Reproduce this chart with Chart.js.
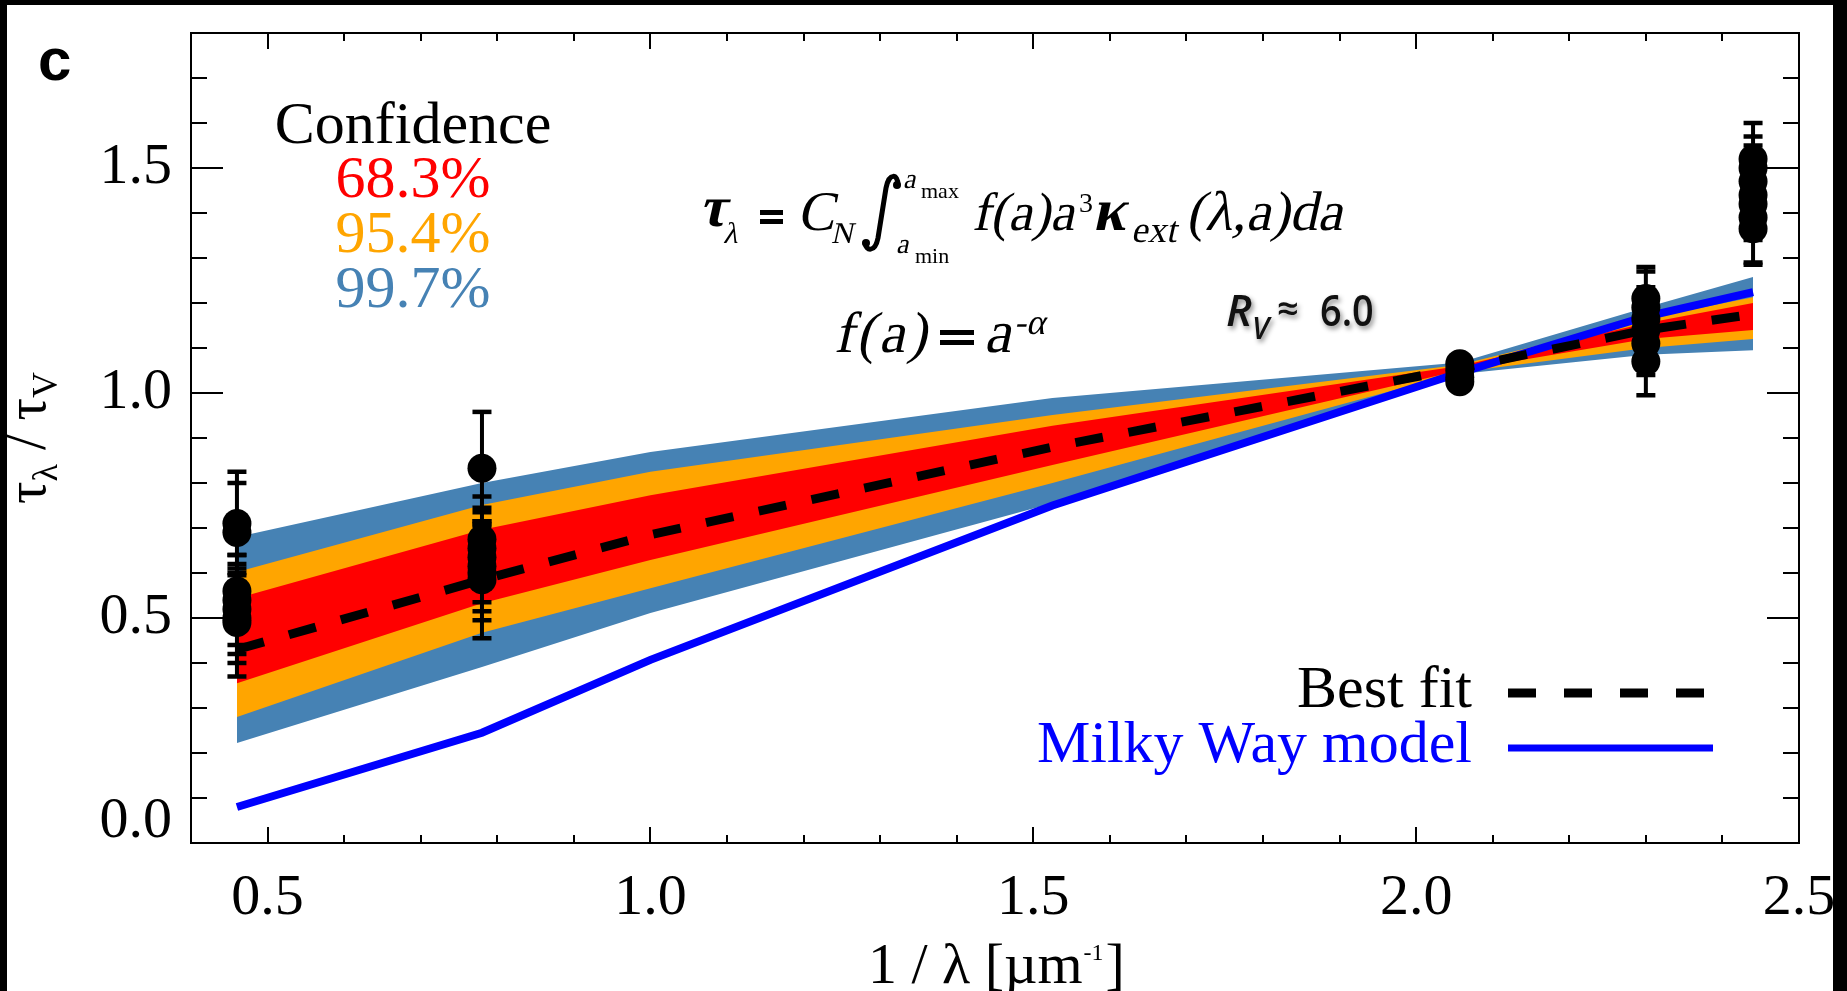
<!DOCTYPE html>
<html>
<head>
<meta charset="utf-8">
<script src="https://cdn.jsdelivr.net/npm/chart.js@4.4.1/dist/chart.umd.min.js"></script>
<style>
  html, body { margin: 0; padding: 0; background: #fff; }
  #wrap { width: 1847px; height: 991px; }
</style>
</head>
<body>
<div id="wrap"><canvas id="c" width="1847" height="991"></canvas></div>
<script>
// model grid in 1/lambda [um^-1]
const invLambda = [0.46, 0.78, 1.0, 1.525, 2.057, 2.30, 2.44];
const bestFit   = [0.43, 0.585, 0.685, 0.88, 1.055, 1.14, 1.175];
const milkyWay  = [0.08, 0.245, 0.407, 0.75, 1.045, 1.17, 1.224];

// confidence envelopes
const conf683Hi = [0.544, 0.696, 0.773, 0.927, 1.06, 1.155, 1.20];
const conf683Lo = [0.355, 0.533, 0.629, 0.84, 1.05, 1.12, 1.14];
const conf954Hi = [0.602, 0.751, 0.825, 0.951, 1.063, 1.165, 1.213];
const conf954Lo = [0.28, 0.467, 0.566, 0.80, 1.046, 1.10, 1.12];
const conf997Hi = [0.68, 0.80, 0.869, 0.989, 1.068, 1.19, 1.258];
const conf997Lo = [0.222, 0.391, 0.511, 0.755, 1.042, 1.085, 1.095];

// observations
const obsX   = [0.46, 0.46, 0.46, 0.46, 0.46, 0.46, 0.46,
                0.78, 0.78, 0.78, 0.78, 0.78, 0.78, 0.78,
                2.057, 2.057, 2.057, 2.057,
                2.30, 2.30, 2.30, 2.30, 2.30, 2.30,
                2.44, 2.44, 2.44, 2.44, 2.44, 2.44, 2.44];
const obsY   = [0.71, 0.69, 0.56, 0.54, 0.52, 0.50, 0.49,
                0.833, 0.675, 0.655, 0.635, 0.615, 0.60, 0.585,
                1.065, 1.05, 1.035, 1.025,
                1.21, 1.19, 1.165, 1.14, 1.11, 1.07,
                1.52, 1.50, 1.47, 1.44, 1.42, 1.39, 1.365];
const obsErr = [0.115, 0.11, 0.08, 0.10, 0.10, 0.10, 0.12,
                0.125, 0.095, 0.09, 0.10, 0.10, 0.105, 0.13,
                0.01, 0.012, 0.01, 0.012,
                0.07, 0.08, 0.07, 0.07, 0.07, 0.075,
                0.08, 0.07, 0.08, 0.08, 0.08, 0.10, 0.08];

const confLabels = ['68.3%', '95.4%', '99.7%'];
const confColors = ['#FF0000', '#FFA500', '#4682B4'];

const SERIF = '"Liberation Serif", "Times New Roman", serif';
const SANS = '"Liberation Sans", Arial, sans-serif';
const CAL = '"Open Sans", "Liberation Sans", sans-serif';

const pts = (ys) => ys.map((y, i) => ({x: invLambda[i], y}));

const errPts = [];
obsX.forEach((x, i) => {
  errPts.push({x, y: obsY[i] - obsErr[i]}, {x, y: obsY[i] + obsErr[i]}, {x, y: null});
});

function band(hi, lo, color, order) {
  return [
    {data: pts(hi), borderColor: 'rgba(0,0,0,0)', borderWidth: 0, pointRadius: 0,
     backgroundColor: color, fill: '+1', order},
    {data: pts(lo), borderColor: 'rgba(0,0,0,0)', borderWidth: 0, pointRadius: 0,
     fill: false, order: order + 1}
  ];
}

function put(ctx, s, x, y, font, color, align) {
  ctx.font = font;
  ctx.fillStyle = color || '#000';
  ctx.textAlign = align || 'left';
  ctx.textBaseline = 'alphabetic';
  ctx.fillText(s, x, y);
}

// slanted serif text (italic drawn by shearing the upright face)
function ital(ctx, s, x, y, size, bold, gap) {
  ctx.save();
  ctx.translate(x, y);
  ctx.transform(1, 0, -0.22, 1, 0, 0);
  ctx.font = `${bold ? 'bold ' : ''}${size}px ${SERIF}`;
  ctx.fillStyle = '#000';
  ctx.textAlign = 'left';
  ctx.textBaseline = 'alphabetic';
  let cx = 0;
  for (const ch of s) {
    ctx.fillText(ch, cx, 0);
    cx += ctx.measureText(ch).width + (gap || 0);
  }
  ctx.restore();
  return x + cx;
}

function eqSign(ctx, x, y, w, h, g) {
  ctx.fillStyle = '#000';
  ctx.fillRect(x, y, w, h);
  ctx.fillRect(x, y + g, w, h);
}

const framePlugin = {
  id: 'frame',
  beforeDraw(chart) {
    const {ctx, width, height} = chart;
    ctx.save();
    ctx.fillStyle = '#fff';
    ctx.fillRect(0, 0, width, height);
    ctx.restore();
  },
  afterDraw(chart) {
    const {ctx, chartArea: a, scales: {x, y}} = chart;
    ctx.save();
    ctx.strokeStyle = '#000';
    ctx.lineWidth = 2;
    ctx.strokeRect(a.left, a.top, a.right - a.left, a.bottom - a.top);
    ctx.beginPath();
    x.ticks.forEach(t => {
      const px = Math.round(x.getPixelForValue(t.value));
      const len = Math.round(t.value * 10) % 5 === 0 ? 16 : 8;
      ctx.moveTo(px, a.bottom); ctx.lineTo(px, a.bottom - len);
      ctx.moveTo(px, a.top); ctx.lineTo(px, a.top + len);
    });
    y.ticks.forEach(t => {
      const py = Math.round(y.getPixelForValue(t.value));
      const len = Math.round(t.value * 10) % 5 === 0 ? 32 : 16;
      ctx.moveTo(a.left, py); ctx.lineTo(a.left + len, py);
      ctx.moveTo(a.right, py); ctx.lineTo(a.right - len, py);
    });
    ctx.stroke();

    // panel letter
    put(ctx, 'c', 38, 80, `bold 60px ${SANS}`);

    // confidence block
    put(ctx, 'Confidence', 413, 143, `60px ${SERIF}`, '#000', 'center');
    confLabels.forEach((s, i) => put(ctx, s, 413, 197 + i * 55, `60px ${SERIF}`, confColors[i], 'center'));

    // tau_lambda = C_N int f(a) a^3 kappa_ext(lambda,a) da
    ital(ctx, 'τ', 699, 226, 58, true);
    ital(ctx, 'λ', 723, 243, 30);
    eqSign(ctx, 760, 210, 23, 5, 9);
    ital(ctx, 'C', 797, 230, 56);
    ital(ctx, 'N', 831, 243, 30);
    ctx.save();
    ctx.strokeStyle = '#000';
    ctx.fillStyle = '#000';
    ctx.lineCap = 'round';
    ctx.lineWidth = 5;
    ctx.beginPath();
    ctx.moveTo(898, 185);
    ctx.bezierCurveTo(898, 174, 889, 172, 886, 188);
    ctx.lineTo(878, 238);
    ctx.bezierCurveTo(875, 253, 866, 251, 865, 243);
    ctx.stroke();
    ctx.beginPath(); ctx.arc(897, 185, 4, 0, Math.PI * 2); ctx.fill();
    ctx.beginPath(); ctx.arc(866, 243, 4, 0, Math.PI * 2); ctx.fill();
    ctx.restore();
    ital(ctx, 'a', 903, 188, 28);
    put(ctx, 'max', 921, 198, `22px ${SERIF}`);
    ital(ctx, 'a', 896, 253, 28);
    put(ctx, 'min', 915, 263, `22px ${SERIF}`);
    ital(ctx, 'f(a)a', 972, 230, 54);
    put(ctx, '3', 1079, 212, `28px ${SERIF}`);
    ital(ctx, 'κ', 1092, 230, 60, true);
    ital(ctx, 'ext', 1131, 242, 37);
    ital(ctx, '(λ,a)da', 1186, 230, 56);

    // f(a) = a^-alpha
    ital(ctx, 'f(a)', 834, 352, 58, false, 3);
    eqSign(ctx, 940, 330, 34, 5, 10);
    ital(ctx, 'a', 984, 352, 60);
    ital(ctx, '-α', 1014, 334, 36);

    // R_V ~ 6.0 with soft shadow
    ctx.save();
    ctx.shadowColor = 'rgba(0,0,0,0.45)';
    ctx.shadowBlur = 5;
    ctx.shadowOffsetX = 2;
    ctx.shadowOffsetY = 3;
    put(ctx, 'R', 1226, 326, `italic 600 44px ${CAL}`, '#111');
    put(ctx, 'V', 1252, 339, `italic 600 30px ${CAL}`, '#111');
    put(ctx, '≈', 1277, 322, `600 38px ${CAL}`, '#111');
    ctx.translate(1320, 326);
    ctx.scale(0.86, 1);
    put(ctx, '6.0', 0, 0, `600 44px ${CAL}`, '#111');
    ctx.restore();

    // legend
    put(ctx, 'Best fit', 1472, 707, `60px ${SERIF}`, '#000', 'right');
    put(ctx, 'Milky Way model', 1472, 762, `60px ${SERIF}`, '#0000FF', 'right');
    ctx.lineCap = 'butt';
    ctx.strokeStyle = '#000';
    ctx.lineWidth = 9;
    ctx.setLineDash([28, 28]);
    ctx.beginPath(); ctx.moveTo(1508, 693); ctx.lineTo(1706, 693); ctx.stroke();
    ctx.setLineDash([]);
    ctx.strokeStyle = '#0000FF';
    ctx.lineWidth = 7;
    ctx.beginPath(); ctx.moveTo(1508, 748); ctx.lineTo(1713, 748); ctx.stroke();

    // x title
    ctx.font = `58px ${SERIF}`;
    let xt = 868;
    put(ctx, '1 / λ [µm', xt, 983, `58px ${SERIF}`);
    xt += ctx.measureText('1 / λ [µm').width + 1;
    put(ctx, '-1', xt, 960, `24px ${SERIF}`);
    xt += ctx.measureText('-1').width + 2;
    put(ctx, ']', xt, 983, `58px ${SERIF}`);

    // y title (rotated)
    ctx.save();
    ctx.translate(45, (a.top + a.bottom) / 2);
    ctx.rotate(-Math.PI / 2);
    const parts = [['τ', 56, 0], ['λ', 36, 12], [' / ', 56, 0], ['τ', 56, 0], ['V', 36, 12]];
    let total = 0;
    parts.forEach(p => { ctx.font = `${p[1]}px ${SERIF}`; total += ctx.measureText(p[0]).width; });
    let px = -total / 2;
    parts.forEach(p => {
      put(ctx, p[0], px, p[2], `${p[1]}px ${SERIF}`);
      px += ctx.measureText(p[0]).width;
    });
    ctx.restore();

    // black frame of the figure
    ctx.fillStyle = '#000';
    ctx.fillRect(0, 0, chart.width, 5);
    ctx.fillRect(0, 0, 7, chart.height);
    ctx.fillRect(1833, 0, chart.width - 1833, chart.height);
    ctx.restore();
  }
};

const tickFont = {family: SERIF, size: 58};

new Chart(document.getElementById('c'), {
  type: 'line',
  data: {
    datasets: [
      {data: obsX.map((x, i) => ({x, y: obsY[i]})), showLine: false,
       pointRadius: 14.5, pointBackgroundColor: '#000', pointBorderWidth: 0, order: 0},
      {data: errPts, borderColor: '#000', borderWidth: 4, spanGaps: false,
       pointStyle: 'line', pointRadius: 9.5, pointBorderWidth: 4.5, pointBorderColor: '#000', order: 1},
      {data: pts(bestFit), borderColor: '#000', borderWidth: 9, borderDash: [28, 26],
       pointRadius: 0, fill: false, order: 2},
      {data: pts(milkyWay), borderColor: '#0000FF', borderWidth: 8,
       pointRadius: 0, fill: false, order: 3},
      ...band(conf683Hi, conf683Lo, confColors[0], 4),
      ...band(conf954Hi, conf954Lo, confColors[1], 6),
      ...band(conf997Hi, conf997Lo, confColors[2], 8)
    ]
  },
  options: {
    responsive: false,
    animation: false,
    events: [],
    layout: {padding: {left: 0, top: 33, right: 48, bottom: 0}},
    plugins: {legend: {display: false}, tooltip: {enabled: false}},
    elements: {line: {tension: 0}},
    scales: {
      x: {
        type: 'linear', min: 0.4, max: 2.5,
        grid: {display: false, drawTicks: false}, border: {display: false},
        ticks: {
          stepSize: 0.1, autoSkip: false, maxRotation: 0, minRotation: 0,
          padding: 21, color: '#000', font: tickFont,
          callback: v => (Math.round(v * 10) % 5 === 0 ? v.toFixed(1) : '')
        },
        afterFit(s) { s.height = 148; s.paddingLeft = 0; s.paddingRight = 0; }
      },
      y: {
        type: 'linear', min: 0, max: 1.8,
        grid: {display: false, drawTicks: false}, border: {display: false},
        ticks: {
          stepSize: 0.1, autoSkip: false, padding: 19, color: '#000',
          font: c => ({family: SERIF, size: 58,
                       lineHeight: c.tick && Math.abs(c.tick.value) < 1e-9 ? '42px' : 1.2}),
          callback: v => {
            if (Math.abs(v) < 1e-9) return ['0.0', ''];
            return Math.round(v * 10) % 5 === 0 ? v.toFixed(1) : '';
          }
        },
        afterFit(s) { s.width = 191; s.paddingTop = 0; s.paddingBottom = 0; }
      }
    }
  },
  plugins: [framePlugin]
});
</script>
</body>
</html>
